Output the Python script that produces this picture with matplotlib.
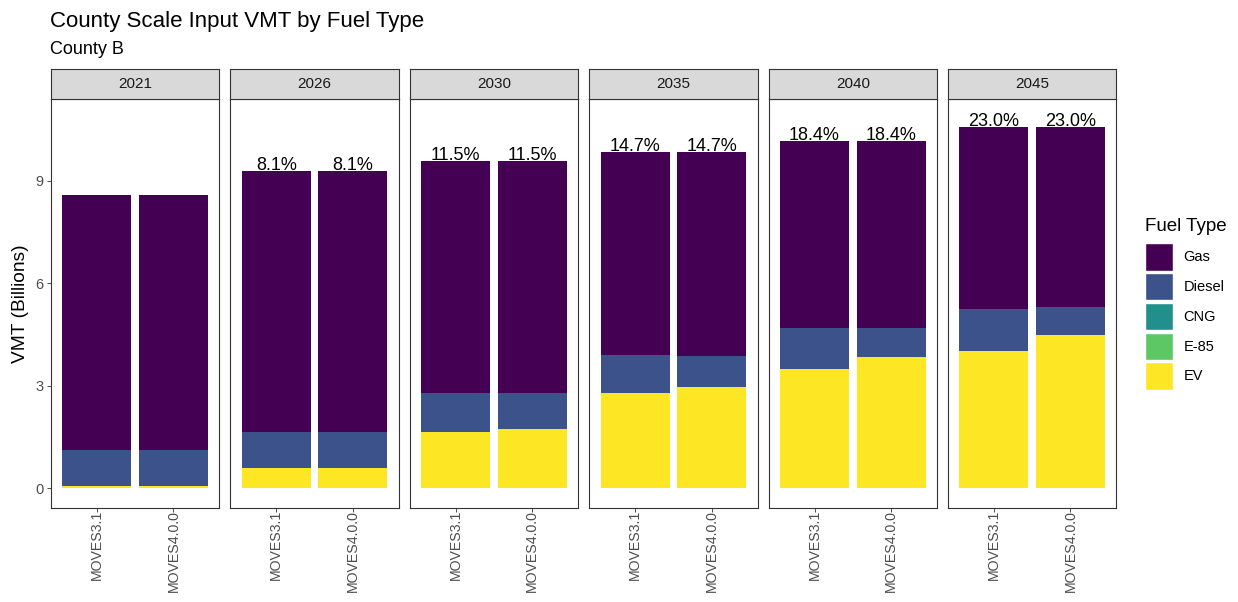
import matplotlib
matplotlib.use("Agg")
import matplotlib.pyplot as plt
from matplotlib.patches import Patch

plt.rcParams["font.family"] = ["Liberation Sans", "DejaVu Sans"]

# Data: county VMT (billions) by fuel type, per analysis year and model version
years = ["2021", "2026", "2030", "2035", "2040", "2045"]
models = ["MOVES3.1", "MOVES4.0.0"]
fuel_types = ["Gas", "Diesel", "CNG", "E-85", "EV"]

ev_m3 = [0.06, 0.58, 1.65, 2.77, 3.49, 4.02]
ev_m4 = [0.06, 0.58, 1.72, 2.95, 3.85, 4.47]
e85_m3 = [0.0, 0.0, 0.0, 0.0, 0.0, 0.0]
e85_m4 = [0.0, 0.0, 0.0, 0.0, 0.0, 0.0]
cng_m3 = [0.0, 0.0, 0.0, 0.0, 0.0, 0.0]
cng_m4 = [0.0, 0.0, 0.0, 0.0, 0.0, 0.0]
diesel_m3 = [1.05, 1.07, 1.13, 1.12, 1.20, 1.23]
diesel_m4 = [1.05, 1.07, 1.06, 0.93, 0.84, 0.84]
gas_m3 = [7.49, 7.65, 6.81, 5.97, 5.49, 5.33]
gas_m4 = [7.49, 7.65, 6.81, 5.98, 5.49, 5.27]

fuel_colors = {
    "Gas": "#440154",
    "Diesel": "#3B528B",
    "CNG": "#21908C",
    "E-85": "#5DC863",
    "EV": "#FDE725",
}

series = {
    "MOVES3.1": {"EV": ev_m3, "E-85": e85_m3, "CNG": cng_m3, "Diesel": diesel_m3, "Gas": gas_m3},
    "MOVES4.0.0": {"EV": ev_m4, "E-85": e85_m4, "CNG": cng_m4, "Diesel": diesel_m4, "Gas": gas_m4},
}
stack_order = ["EV", "E-85", "CNG", "Diesel", "Gas"]

W, H = 1238, 602
fig = plt.figure(figsize=(W / 100, H / 100), dpi=100)

# facet geometry in pixels
left0, panel_w, step = 51, 168.4, 179.4
top_px, bot_px = 99, 508
strip_top = 69
ylo, yhi = -0.586, 11.40

edge = "#333333"
axes = []
for i, yr in enumerate(years):
    x0 = left0 + i * step
    ax = fig.add_axes([x0 / W, 1 - bot_px / H, panel_w / W, (bot_px - top_px) / H])
    axes.append(ax)
    totals = []
    for j, m in enumerate(models):
        bottom = 0.0
        for ft in stack_order:
            v = series[m][ft][i]
            ax.bar(j + 1, v, bottom=bottom, width=0.9, color=fuel_colors[ft], linewidth=0)
            bottom += v
        totals.append(bottom)
    # growth in total VMT relative to the first year
    if i > 0:
        for j, m in enumerate(models):
            base = sum(series[m][ft][0] for ft in stack_order)
            pct = (totals[j] / base - 1) * 100
            ax.annotate(f"{pct:.1f}%", xy=(j + 1, totals[j]), xytext=(0, 0.5),
                        textcoords="offset points", ha="center", va="baseline",
                        fontsize=13, color="black")
    ax.set_xlim(0.4, 2.6)
    ax.set_ylim(ylo, yhi)
    ax.set_xticks([1, 2])
    ax.set_xticklabels(models, rotation=90, fontsize=10.2, color="#4D4D4D")
    ax.tick_params(axis="x", length=3.2, width=0.6, color=edge, pad=-1.8)
    if i == 0:
        ax.set_yticks([0, 3, 6, 9])
        ax.set_yticklabels(["0", "3", "6", "9"], fontsize=10.5, color="#4D4D4D")
        ax.tick_params(axis="y", length=3.2, width=0.6, color=edge, pad=2)
        ax.set_ylabel("VMT (Billions)", fontsize=13.8, labelpad=5)
    else:
        ax.set_yticks([])
    for s in ax.spines.values():
        s.set_color(edge)
        s.set_linewidth(0.8)

    # strip header
    sax = fig.add_axes([x0 / W, 1 - top_px / H, panel_w / W, (top_px - strip_top) / H])
    sax.set_facecolor("#D9D9D9")
    sax.set_xticks([])
    sax.set_yticks([])
    for s in sax.spines.values():
        s.set_color(edge)
        s.set_linewidth(0.8)
    sax.text(0.5, 0.5, yr, ha="center", va="center", fontsize=11,
             color="#1A1A1A", transform=sax.transAxes)

fig.text(50 / W, 1 - 21 / H, "County Scale Input VMT by Fuel Type", fontsize=16,
         ha="left", va="center")
fig.text(50 / W, 1 - 49 / H, "County B", fontsize=13, ha="left", va="center")

handles = [Patch(facecolor=fuel_colors[f], edgecolor="white", linewidth=1.0) for f in fuel_types]
leg = fig.legend(handles, fuel_types, loc="upper left",
                 bbox_to_anchor=(1145 / W, 1 - 218 / H), frameon=False,
                 fontsize=10.5, title="Fuel Type", title_fontsize=13.5,
                 handlelength=1.9, handleheight=2.5, labelspacing=0.17,
                 handletextpad=0.75, borderpad=0, borderaxespad=0)
leg._legend_box.align = "left"
leg._legend_box.sep = 6.0

fig.savefig("out.png", dpi=100, facecolor="white")
